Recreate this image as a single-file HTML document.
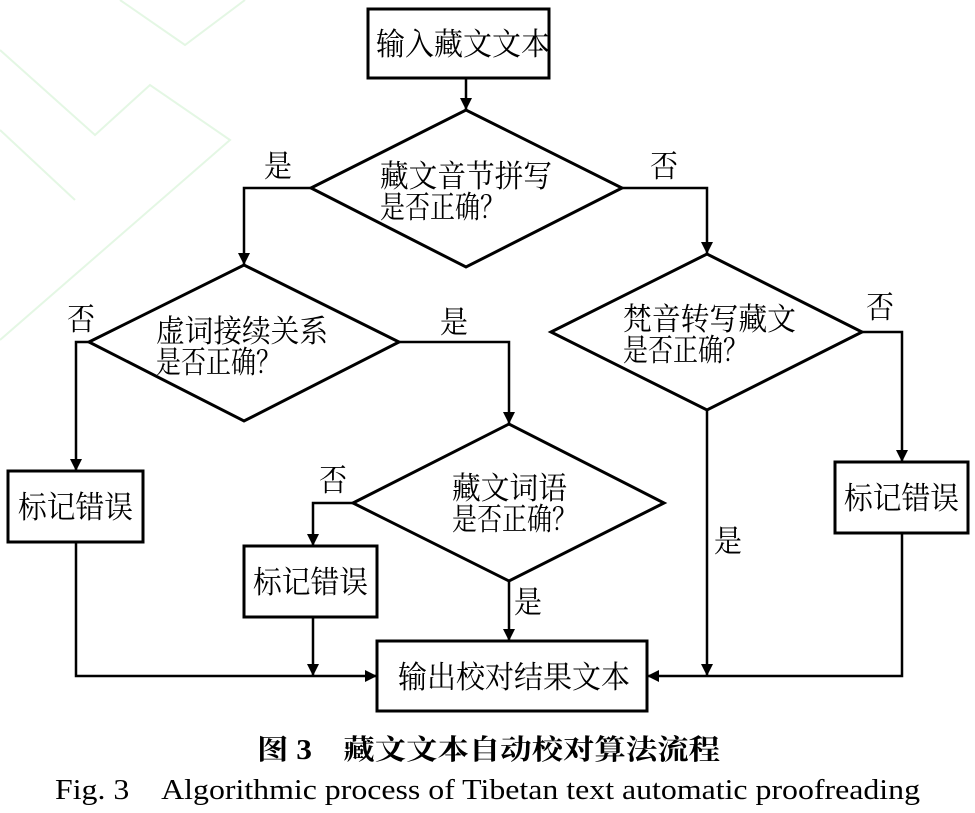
<!DOCTYPE html>
<html><head><meta charset="utf-8"><style>
html,body{margin:0;padding:0;background:#fff;}
svg{display:block;}
.t{font-family:"Liberation Serif","Noto Serif CJK SC",serif;font-size:31px;fill:#000;}
.c{font-family:"Liberation Serif","Noto Serif CJK SC",serif;font-size:28px;fill:#000;white-space:pre;}
</style></head><body>
<svg width="975" height="813" viewBox="0 0 975 813" xmlns="http://www.w3.org/2000/svg">
<defs><marker id="a" markerWidth="12" markerHeight="16" refX="12" refY="6" orient="auto" markerUnits="userSpaceOnUse"><path d="M0,0 L12,6 L0,12 Z" fill="#000"/></marker></defs>
<g stroke="#e4f7e4" stroke-width="2" fill="none">
<path d="M0,50 L95,135 L150,85 L230,140 L0,340"/><path d="M120,0 L185,45 L245,0"/><path d="M0,130 L75,200"/>
</g>
<g stroke="#000" stroke-width="3" fill="none">
<rect x="368" y="9" width="181" height="69"/>
<polygon points="311,188 466,110 622,188 466,267"/>
<polygon points="89,342 244,265 399,342 244,421"/>
<polygon points="551,332 707,254 862,332 707,410"/>
<polygon points="353,503 509,424 664,503 509,581"/>
<rect x="8" y="471" width="135" height="71"/>
<rect x="244" y="546" width="133" height="71"/>
<rect x="835" y="462" width="133" height="71"/>
<rect x="377" y="641" width="270" height="70"/>
</g>
<g stroke="#000" stroke-width="2.5" fill="none">
<path d="M466,78 V110" marker-end="url(#a)"/>
<path d="M311,188 H244 V265" marker-end="url(#a)"/>
<path d="M622,188 H707 V254" marker-end="url(#a)"/>
<path d="M89,342 H76 V471" marker-end="url(#a)"/>
<path d="M399,342 H509 V424" marker-end="url(#a)"/>
<path d="M353,503 H313 V546" marker-end="url(#a)"/>
<path d="M862,332 H902 V462" marker-end="url(#a)"/>
<path d="M509,581 V641" marker-end="url(#a)"/>
<path d="M313,617 V676" marker-end="url(#a)"/>
<path d="M76,542 V676 H377" marker-end="url(#a)"/>
<path d="M707,410 V676" marker-end="url(#a)"/>
<path d="M902,533 V676 H647" marker-end="url(#a)"/>
</g>
<text class="t" x="376" y="55" textLength="174" lengthAdjust="spacingAndGlyphs">输入藏文文本</text>
<text class="t" x="380" y="187" textLength="172" lengthAdjust="spacingAndGlyphs">藏文音节拼写</text>
<text class="t" x="380" y="218" textLength="125" lengthAdjust="spacingAndGlyphs">是否正确？</text>
<text class="t" x="156" y="342" textLength="172" lengthAdjust="spacingAndGlyphs">虚词接续关系</text>
<text class="t" x="156" y="373" textLength="125" lengthAdjust="spacingAndGlyphs">是否正确？</text>
<text class="t" x="623" y="330" textLength="173" lengthAdjust="spacingAndGlyphs">梵音转写藏文</text>
<text class="t" x="623" y="361" textLength="125" lengthAdjust="spacingAndGlyphs">是否正确？</text>
<text class="t" x="452" y="499" textLength="115" lengthAdjust="spacingAndGlyphs">藏文词语</text>
<text class="t" x="452" y="530" textLength="125" lengthAdjust="spacingAndGlyphs">是否正确？</text>
<text class="t" x="18" y="518" textLength="115" lengthAdjust="spacingAndGlyphs">标记错误</text>
<text class="t" x="253" y="593" textLength="115" lengthAdjust="spacingAndGlyphs">标记错误</text>
<text class="t" x="844" y="509" textLength="115" lengthAdjust="spacingAndGlyphs">标记错误</text>
<text class="t" x="398" y="688" textLength="232" lengthAdjust="spacingAndGlyphs">输出校对结果文本</text>
<text class="t" x="264" y="177" textLength="28" lengthAdjust="spacingAndGlyphs">是</text>
<text class="t" x="650" y="177" textLength="28" lengthAdjust="spacingAndGlyphs">否</text>
<text class="t" x="67" y="330" textLength="28" lengthAdjust="spacingAndGlyphs">否</text>
<text class="t" x="440" y="333" textLength="28" lengthAdjust="spacingAndGlyphs">是</text>
<text class="t" x="866" y="318" textLength="28" lengthAdjust="spacingAndGlyphs">否</text>
<text class="t" x="319" y="491" textLength="28" lengthAdjust="spacingAndGlyphs">否</text>
<text class="t" x="514" y="613" textLength="28" lengthAdjust="spacingAndGlyphs">是</text>
<text class="t" x="714" y="552" textLength="28" lengthAdjust="spacingAndGlyphs">是</text>
<text class="c" x="257" y="759" font-weight="bold" textLength="463" lengthAdjust="spacingAndGlyphs">图 3　藏文文本自动校对算法流程</text>
<text class="c" x="55" y="799" textLength="865" lengthAdjust="spacingAndGlyphs">Fig. 3&#160;&#160;&#160;&#160;Algorithmic process of Tibetan text automatic proofreading</text>
</svg>
</body></html>
